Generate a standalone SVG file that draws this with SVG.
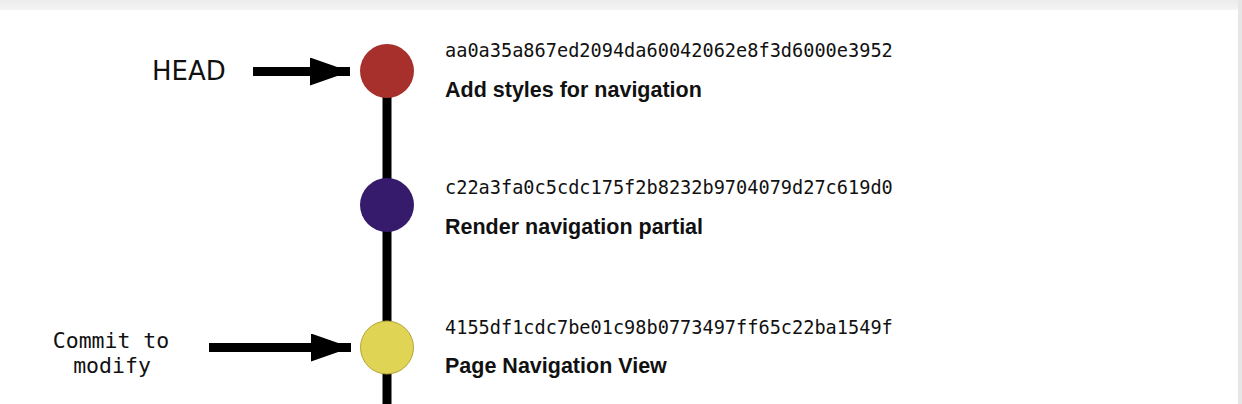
<svg xmlns="http://www.w3.org/2000/svg" width="1242" height="404" viewBox="0 0 1242 404">
<defs>
<linearGradient id="topShade" x1="0" y1="0" x2="0" y2="1">
<stop offset="0" stop-color="#ececec"/>
<stop offset="1" stop-color="#f5f5f5"/>
</linearGradient>
<marker id="arrow" viewBox="0 0 40 28" refX="40" refY="14" markerWidth="40" markerHeight="28" markerUnits="userSpaceOnUse" orient="auto">
<path d="M0,0 L40,14 L0,28 Z" fill="#000"/>
</marker>
<style>
.hash{font-family:"DejaVu Sans Mono",monospace;font-size:18.6px;fill:#111}
.title{font-family:"Liberation Sans",Arial,sans-serif;font-weight:bold;font-size:21.5px;fill:#111}
.label{font-family:"DejaVu Sans Mono",monospace;font-size:21.5px;fill:#111}
.head{font-family:"DejaVu Sans",sans-serif;font-size:26px;fill:#111}
.conn{stroke:#000;stroke-width:9;fill:none}
</style>
</defs>
<rect x="0" y="0" width="1242" height="404" fill="#f4f4f4"/>
<rect x="0" y="0" width="1242" height="11" fill="url(#topShade)"/>
<rect x="1238" y="0" width="4" height="404" fill="#e6e6e6"/>
<rect x="0" y="10" width="1238" height="394" fill="#ffffff"/>
<g id="connectors">
<line class="conn" x1="387" y1="71" x2="387" y2="404"/>
<line class="conn" x1="253" y1="71.5" x2="350" y2="71.5" marker-end="url(#arrow)"/>
<line class="conn" x1="209" y1="347.5" x2="351" y2="347.5" marker-end="url(#arrow)"/>
</g>
<g id="head-label">
<text class="head" x="152" y="80">HEAD</text>
</g>
<g id="modify-label">
<text class="label" x="111" y="348" text-anchor="middle">Commit to</text>
<text class="label" x="112" y="373" text-anchor="middle">modify</text>
</g>
<g id="commit1">
<circle cx="387" cy="71" r="27" fill="#a8302c"/>
<text class="hash" x="445" y="57">aa0a35a867ed2094da60042062e8f3d6000e3952</text>
<text class="title" x="445" y="97">Add styles for navigation</text>
</g>
<g id="commit2">
<circle cx="387" cy="205" r="27" fill="#361a6b"/>
<text class="hash" x="445" y="194">c22a3fa0c5cdc175f2b8232b9704079d27c619d0</text>
<text class="title" x="445" y="234">Render navigation partial</text>
</g>
<g id="commit3">
<circle cx="387" cy="347.5" r="26.5" fill="#e0d455" stroke="#b3a43c" stroke-width="1"/>
<text class="hash" x="445" y="334">4155df1cdc7be01c98b0773497ff65c22ba1549f</text>
<text class="title" x="445" y="373">Page Navigation View</text>
</g>
</svg>
